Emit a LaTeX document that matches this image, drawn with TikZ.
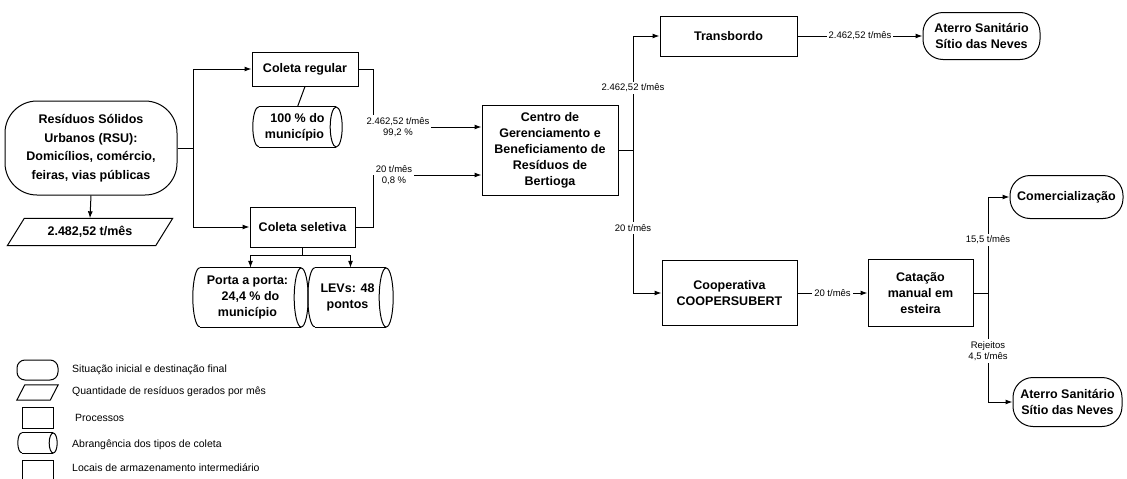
\documentclass[tikz,border=0pt]{standalone}
\usepackage{fontspec}
\setmainfont{Liberation Sans}
\usetikzlibrary{arrows.meta}
\newcommand{\mybf}{\fontsize{12.5}{16}\selectfont\bfseries}
\newcommand{\mybfR}{\fontsize{12.5}{18.5}\selectfont\bfseries}
\newcommand{\mysm}{\fontsize{9.5}{11.5}\selectfont}
\newcommand{\myleg}{\fontsize{10.5}{12}\selectfont}
% horizontal cylinder drawn round a named node: #1 node, #2 cap x radius, #3 half height
\newcommand{\mycyl}[3]{%
  \draw[ln] ([xshift=#2]#1.north west) -- ([xshift=-#2]#1.north east);
  \draw[ln] ([xshift=#2]#1.south west) -- ([xshift=-#2]#1.south east);
  \draw[ln] ([xshift=-#2]#1.east) ellipse[x radius=#2,y radius=#3];
  \draw[ln] ([xshift=#2]#1.north west) arc[start angle=90,end angle=270,x radius=#2,y radius=#3];}
% parallelogram drawn round a named node: #1 node, #2 slant
\newcommand{\mypar}[2]{%
  \draw[ln] (#1.south west) -- ([xshift=#2]#1.north west) -- (#1.north east) -- ([xshift=-#2]#1.south east) -- cycle;}
\begin{document}
\begin{tikzpicture}[x=1pt,y=1pt,
  bx/.style={draw,line width=1pt,align=center,inner sep=1pt,font=\mybf},
  term/.style={draw,line width=1pt,rounded corners=#1,align=center,inner sep=1pt,font=\mybf},
  cyl/.style={align=center,inner sep=1pt,font=\mybf},
  qty/.style={align=center,inner sep=1pt,font=\mybf},
  ln/.style={line width=1pt},
  ar/.style={line width=1pt,-{Latex[length=7pt,width=5pt]}},
  lbl/.style={fill=white,inner sep=2pt,align=center,font=\mysm},
  leg/.style={anchor=west,inner sep=0pt,font=\myleg}]
\useasboundingbox (0,0) rectangle (1127,-479);

% nodes
\node[term=32,minimum width=172,minimum height=94,font=\mybfR] (rsu) at (91,-148) {Resíduos Sólidos\\Urbanos (RSU):\\Domicílios, comércio,\\feiras, vias públicas};
\node[qty,minimum width=165,minimum height=27] (par) at (90,-232) {2.482,52 t/mês};
\mypar{par}{17pt}
\node[bx,minimum width=106,minimum height=34] (cr) at (305,-69) {Coleta regular};
\node[cyl,minimum width=89,minimum height=40] (c1) at (297.5,-127) {100 \% do\\município\hspace*{6pt}};
\mycyl{c1}{6pt}{20pt}
\node[bx,minimum width=105,minimum height=40] (cs) at (302.5,-227) {Coleta seletiva};
\node[cyl,minimum width=115,minimum height=59] (c2) at (250.5,-297.5) {Porta a porta:\hspace*{6pt}\\24,4 \% do\hspace*{6pt}\\município\hspace*{6pt}};
\mycyl{c2}{7pt}{29.5pt}
\node[cyl,minimum width=85,minimum height=59] (c3) at (350.5,-297.5) {LEVs: 48\hspace*{6pt}\\pontos\hspace*{6pt}};
\mycyl{c3}{7pt}{29.5pt}
\node[bx,minimum width=136,minimum height=90] (cg) at (550,-150) {Centro de\\Gerenciamento e\\Beneficiamento de\\Resíduos de\\Bertioga};
\node[bx,minimum width=137,minimum height=40] (tb) at (728.5,-36) {Transbordo};
\node[term=20,minimum width=117,minimum height=47] (a1) at (981.5,-36) {Aterro Sanitário\\Sítio das Neves};
\node[bx,minimum width=135,minimum height=65] (coop) at (729.5,-293) {Cooperativa\\COOPERSUBERT};
\node[bx,minimum width=105,minimum height=67] (cat) at (920.5,-293) {Catação\\manual em\\esteira};
\node[term=20,minimum width=113,minimum height=43] (com) at (1066.5,-197) {Comercialização};
\node[term=20,minimum width=109,minimum height=49] (a2) at (1067.5,-402) {Aterro Sanitário\\Sítio das Neves};

% connectors left
\coordinate (j1) at (193,-148);
\draw[ln] (rsu.east) -- (j1);
\draw[ar] (j1) |- (cr.west);
\draw[ar] (j1) |- (cs.west);
\draw[ar] (rsu.south) -- (par.north);
\draw[ln] (cr.south) -- (c1.north);
\coordinate (k1) at (373,-127);
\draw[ar] (cr.east) -| (k1) -- (k1 -| cg.west);
\node[lbl] (l99) at (398,-127) {2.462,52 t/mês\\99,2 \%};
\coordinate (k2) at (373,-175);
\draw[ar] (cs.east) -| (k2) -- (k2 -| cg.west);
\node[lbl] (l08) at (394,-175) {20 t/mês\\0,8 \%};
\draw[ln] (cs.south) -- ++(0,-8) coordinate (j3);
\draw[ar] (j3) -| (c2.north);
\draw[ar] (j3) -| (c3.north);

% connectors right
\coordinate (j2) at (633,-150);
\draw[ln] (cg.east) -- (j2);
\draw[ar] (j2) |- (tb.west);
\draw[ar] (j2) |- (coop.west);
\node[lbl] (lt1) at (633,-88) {2.462,52 t/mês};
\node[lbl] (lt2) at (633,-228) {20 t/mês};
\draw[ar] (tb.east) -- (a1.west) node[lbl,midway] (lt3) {2.462,52 t/mês};
\draw[ar] (coop.east) -- (cat.west) node[lbl,midway] (lt4) {20 t/mês};
\coordinate (j4) at (988,-293);
\draw[ln] (cat.east) -- (j4);
\draw[ar] (j4) |- (com.west);
\draw[ar] (j4) |- (a2.west);
\node[lbl] (lt5) at (988,-240) {15,5 t/mês};
\node[lbl] (lt6) at (988,-351) {Rejeitos\\4,5 t/mês};

% legend
\node[term=8,minimum width=41,minimum height=20] (g1) at (37.5,-370) {};
\node[qty,minimum width=41,minimum height=15] (g2) at (37.5,-392.5) {};
\mypar{g2}{8pt}
\node[bx,minimum width=31,minimum height=21] (g3) at (37.5,-417.5) {};
\node[cyl,minimum width=39,minimum height=20] (g4) at (37.5,-443) {};
\mycyl{g4}{4pt}{10pt}
\node[bx,minimum width=31,minimum height=22] (g5) at (37.5,-471) {};
\node[leg] (t1) at (72,-370) {Situação inicial e destinação final};
\node[leg] (t2) at (72,-392) {Quantidade de resíduos gerados por mês};
\node[leg] (t3) at (75,-418) {Processos};
\node[leg] (t4) at (72,-445) {Abrangência dos tipos de coleta};
\node[leg] (t5) at (72,-468) {Locais de armazenamento intermediário};
\end{tikzpicture}
\end{document}
